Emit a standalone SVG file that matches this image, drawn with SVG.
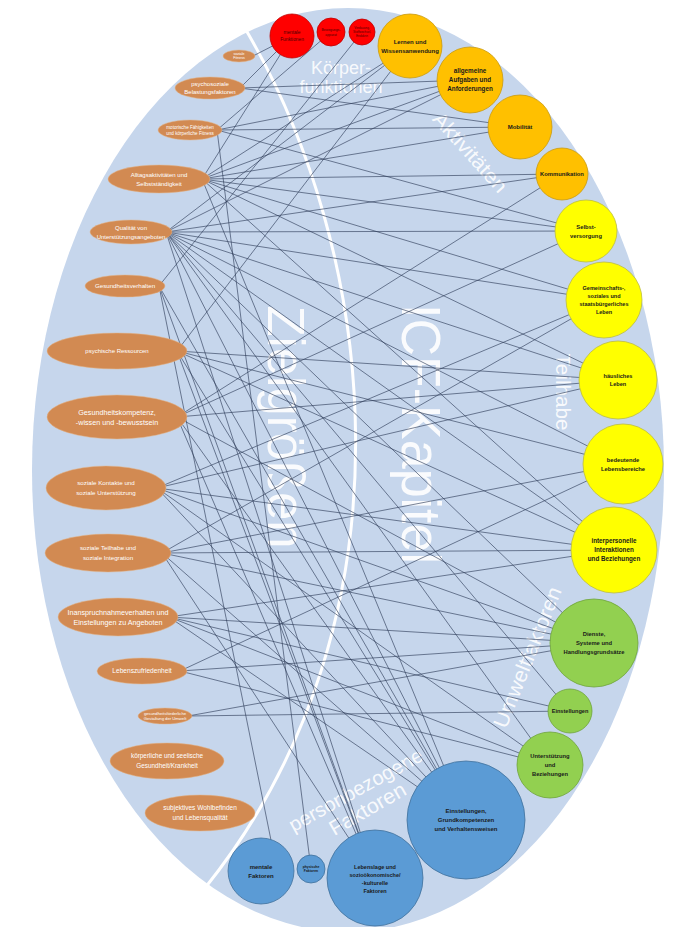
<svg xmlns="http://www.w3.org/2000/svg" width="674" height="927" viewBox="0 0 674 927">
<style>
.bg{fill:#c6d6ec}
.sep{fill:none;stroke:#ffffff;stroke-width:3}
.big{fill:#ffffff;fill-opacity:0.9;font-family:"Liberation Sans",Arial,sans-serif}
#connectors line{stroke:#2c3b57;stroke-width:0.7;stroke-opacity:0.9}
.le{fill:#d28a52;stroke:#e2b48a;stroke-width:0.5}
.lt{fill:#ffffff;font-family:"Liberation Sans",Arial,sans-serif;text-anchor:middle}
.ct{fill:#1a1a1a;font-family:"Liberation Sans",Arial,sans-serif;font-weight:bold;text-anchor:middle}
.rt{fill:#4a0000;font-family:"Liberation Sans",Arial,sans-serif;text-anchor:middle}
.red{fill:#ff0000;stroke:#c00000;stroke-width:0.8}
.org{fill:#ffc000;stroke:#c99a10;stroke-width:0.8}
.yel{fill:#ffff00;stroke:#bdbd40;stroke-width:0.8}
.grn{fill:#92d050;stroke:#6fa33a;stroke-width:0.8}
.blu{fill:#5b9bd5;stroke:#41719c;stroke-width:0.8}
</style>
<rect width="674" height="927" fill="#ffffff"/>
<ellipse class="bg" cx="348" cy="470" rx="316" ry="462"/>
<path class="sep" d="M240 20 C380 250 420 620 205 888"/>
<g id="labels">
<text class="big" transform="translate(268,427) rotate(90)" font-size="51" text-anchor="middle" textLength="243" lengthAdjust="spacingAndGlyphs">Zielgrößen</text>
<text class="big" transform="translate(402,434) rotate(90)" font-size="56" text-anchor="middle" textLength="260" lengthAdjust="spacingAndGlyphs">ICF-Kapitel</text>
<text class="big" x="341" y="74" font-size="18" text-anchor="middle">Körper-</text>
<text class="big" x="341" y="93" font-size="18" text-anchor="middle">funktionen</text>
<text class="big" transform="translate(465,157) rotate(48)" font-size="20" text-anchor="middle" textLength="100" lengthAdjust="spacingAndGlyphs">Aktivitäten</text>
<text class="big" transform="translate(556,392) rotate(90)" font-size="20" text-anchor="middle" textLength="77" lengthAdjust="spacingAndGlyphs">Teilhabe</text>
<text class="big" transform="translate(534,660) rotate(-68)" font-size="21" text-anchor="middle" textLength="150" lengthAdjust="spacingAndGlyphs">Umweltfaktoren</text>
<text class="big" transform="translate(359,796) rotate(-29)" font-size="20" text-anchor="middle" textLength="150" lengthAdjust="spacingAndGlyphs">personbezogene</text>
<text class="big" transform="translate(371,815) rotate(-30)" font-size="21" text-anchor="middle" textLength="85" lengthAdjust="spacingAndGlyphs">Faktoren</text>
</g>
<g id="connectors">
<line x1="253" y1="56" x2="292" y2="36"/>
<line x1="240" y1="88" x2="292" y2="36"/>
<line x1="240" y1="88" x2="470" y2="80"/>
<line x1="240" y1="88" x2="520" y2="127"/>
<line x1="217" y1="130" x2="331" y2="32"/>
<line x1="217" y1="130" x2="520" y2="127"/>
<line x1="217" y1="130" x2="470" y2="80"/>
<line x1="217" y1="130" x2="586" y2="231"/>
<line x1="217" y1="130" x2="311" y2="869"/>
<line x1="202" y1="179" x2="292" y2="36"/>
<line x1="202" y1="179" x2="410" y2="46"/>
<line x1="202" y1="179" x2="470" y2="80"/>
<line x1="202" y1="179" x2="520" y2="127"/>
<line x1="202" y1="179" x2="562" y2="174"/>
<line x1="202" y1="179" x2="586" y2="231"/>
<line x1="202" y1="179" x2="604" y2="300"/>
<line x1="202" y1="179" x2="618" y2="380"/>
<line x1="202" y1="179" x2="614" y2="550"/>
<line x1="202" y1="179" x2="466" y2="820"/>
<line x1="166" y1="232" x2="410" y2="46"/>
<line x1="166" y1="232" x2="470" y2="80"/>
<line x1="166" y1="232" x2="562" y2="174"/>
<line x1="166" y1="232" x2="586" y2="231"/>
<line x1="166" y1="232" x2="604" y2="300"/>
<line x1="166" y1="232" x2="618" y2="380"/>
<line x1="166" y1="232" x2="623" y2="464"/>
<line x1="166" y1="232" x2="614" y2="550"/>
<line x1="166" y1="232" x2="594" y2="643"/>
<line x1="166" y1="232" x2="570" y2="711"/>
<line x1="166" y1="232" x2="550" y2="765"/>
<line x1="166" y1="232" x2="466" y2="820"/>
<line x1="166" y1="232" x2="375" y2="878"/>
<line x1="159" y1="286" x2="362" y2="32"/>
<line x1="159" y1="286" x2="275" y2="860"/>
<line x1="159" y1="286" x2="466" y2="820"/>
<line x1="159" y1="286" x2="375" y2="878"/>
<line x1="177" y1="351" x2="410" y2="46"/>
<line x1="177" y1="351" x2="618" y2="380"/>
<line x1="177" y1="351" x2="623" y2="464"/>
<line x1="177" y1="351" x2="614" y2="550"/>
<line x1="177" y1="351" x2="466" y2="820"/>
<line x1="177" y1="351" x2="375" y2="878"/>
<line x1="177" y1="417" x2="562" y2="174"/>
<line x1="177" y1="417" x2="586" y2="231"/>
<line x1="177" y1="417" x2="618" y2="380"/>
<line x1="177" y1="417" x2="594" y2="643"/>
<line x1="177" y1="417" x2="466" y2="820"/>
<line x1="177" y1="417" x2="375" y2="878"/>
<line x1="157" y1="488" x2="604" y2="300"/>
<line x1="157" y1="488" x2="618" y2="380"/>
<line x1="157" y1="488" x2="614" y2="550"/>
<line x1="157" y1="488" x2="594" y2="643"/>
<line x1="157" y1="488" x2="550" y2="765"/>
<line x1="157" y1="488" x2="466" y2="820"/>
<line x1="162" y1="553" x2="604" y2="300"/>
<line x1="162" y1="553" x2="623" y2="464"/>
<line x1="162" y1="553" x2="614" y2="550"/>
<line x1="162" y1="553" x2="594" y2="643"/>
<line x1="162" y1="553" x2="466" y2="820"/>
<line x1="162" y1="553" x2="375" y2="878"/>
<line x1="169" y1="617" x2="594" y2="643"/>
<line x1="169" y1="617" x2="570" y2="711"/>
<line x1="169" y1="617" x2="550" y2="765"/>
<line x1="169" y1="617" x2="466" y2="820"/>
<line x1="169" y1="617" x2="614" y2="550"/>
<line x1="180" y1="671" x2="594" y2="643"/>
<line x1="180" y1="671" x2="550" y2="765"/>
<line x1="180" y1="671" x2="623" y2="464"/>
<line x1="188" y1="716" x2="594" y2="643"/>
<line x1="188" y1="716" x2="570" y2="711"/>
</g>
<g id="n-soziale-fitness"><ellipse class="le" cx="239" cy="56" rx="16" ry="6"/><text class="lt" font-size="3.6"><tspan x="239" y="55.2">soziale</tspan><tspan x="239" y="59.4">Fitness</tspan></text></g>
<g id="n-psychosoziale"><ellipse class="le" cx="210" cy="88" rx="35" ry="11"/><text class="lt" font-size="6"><tspan x="210" y="86.1">psychosoziale</tspan><tspan x="210" y="94.1">Belastungsfaktoren</tspan></text></g>
<g id="n-motorische"><ellipse class="le" cx="190" cy="130" rx="32" ry="10"/><text class="lt" font-size="4.6"><tspan x="190" y="128.6">motorische Fähigkeiten</tspan><tspan x="190" y="134.6">und körperliche Fitness</tspan></text></g>
<g id="n-alltag"><ellipse class="le" cx="159" cy="179" rx="51" ry="14"/><text class="lt" font-size="6"><tspan x="159" y="176.6">Alltagsaktivitäten und</tspan><tspan x="159" y="185.6">Selbstständigkeit</tspan></text></g>
<g id="n-qualitaet"><ellipse class="le" cx="131" cy="232" rx="41" ry="12"/><text class="lt" font-size="6"><tspan x="131" y="229.6">Qualität von</tspan><tspan x="131" y="238.6">Unterstützungsangeboten</tspan></text></g>
<g id="n-gesundheitsverhalten"><ellipse class="le" cx="125" cy="286" rx="40" ry="11"/><text class="lt" font-size="6.2" x="125" y="288.2">Gesundheitsverhalten</text></g>
<g id="n-psychische-ressourcen"><ellipse class="le" cx="117" cy="351" rx="70" ry="18"/><text class="lt" font-size="6" x="117" y="353.1">psychische Ressourcen</text></g>
<g id="n-gesundheitskompetenz"><ellipse class="le" cx="117" cy="417" rx="70" ry="22"/><text class="lt" font-size="7.2"><tspan x="117" y="414.5">Gesundheitskompetenz,</tspan><tspan x="117" y="424.5">-wissen und -bewusstsein</tspan></text></g>
<g id="n-soziale-kontakte"><ellipse class="le" cx="106" cy="488" rx="60" ry="22"/><text class="lt" font-size="6.2"><tspan x="106" y="485.2">soziale Kontakte und</tspan><tspan x="106" y="495.2">soziale Unterstützung</tspan></text></g>
<g id="n-soziale-teilhabe"><ellipse class="le" cx="108" cy="553" rx="63" ry="19"/><text class="lt" font-size="6.2"><tspan x="108" y="550.2">soziale Teilhabe und</tspan><tspan x="108" y="560.2">soziale Integration</tspan></text></g>
<g id="n-inanspruchnahme"><ellipse class="le" cx="118" cy="617" rx="60" ry="19"/><text class="lt" font-size="7.2"><tspan x="118" y="614.5">Inanspruchnahmeverhalten und</tspan><tspan x="118" y="624.5">Einstellungen zu Angeboten</tspan></text></g>
<g id="n-lebenszufriedenheit"><ellipse class="le" cx="142" cy="671" rx="45" ry="13"/><text class="lt" font-size="6.6" x="142" y="673.3">Lebenszufriedenheit</text></g>
<g id="n-umwelt"><ellipse class="le" cx="165" cy="716" rx="27" ry="8"/><text class="lt" font-size="4.2"><tspan x="165" y="715">gesundheitsförderliche</tspan><tspan x="165" y="720">Gestaltung der Umwelt</tspan></text></g>
<g id="n-koerperliche"><ellipse class="le" cx="167" cy="761" rx="57" ry="18"/><text class="lt" font-size="6.4"><tspan x="167" y="758.2">körperliche und seelische</tspan><tspan x="167" y="768.2">Gesundheit/Krankheit</tspan></text></g>
<g id="n-wohlbefinden"><ellipse class="le" cx="200" cy="813" rx="55" ry="18"/><text class="lt" font-size="6.5"><tspan x="200" y="810.3">subjektives Wohlbefinden</tspan><tspan x="200" y="820.3">und Lebensqualität</tspan></text></g>
<g id="n-mentale-funktionen"><circle class="red" cx="292" cy="36" r="22"/><text class="rt" font-size="4.8"><tspan x="292" y="34.2">mentale</tspan><tspan x="292" y="41.2">Funktionen</tspan></text></g>
<g id="n-bewegungsapparat"><circle class="red" cx="331" cy="32" r="14"/><text class="rt" font-size="3.4"><tspan x="331" y="31">Bewegungs-</tspan><tspan x="331" y="35.5">apparat</tspan></text></g>
<g id="n-verdauung"><circle class="red" cx="362" cy="32" r="13"/><text class="rt" font-size="3"><tspan x="362" y="29">Verdauung,</tspan><tspan x="362" y="33">Stoffwechsel,</tspan><tspan x="362" y="37">Endokrin</tspan></text></g>
<g id="n-lernen"><circle class="org" cx="410" cy="46" r="32"/><text class="ct" font-size="6"><tspan x="410" y="43.6">Lernen und</tspan><tspan x="410" y="52.6">Wissensanwendung</tspan></text></g>
<g id="n-aufgaben"><circle class="org" cx="470" cy="80" r="33"/><text class="ct" font-size="6.3"><tspan x="470" y="73.2">allgemeine</tspan><tspan x="470" y="82.2">Aufgaben und</tspan><tspan x="470" y="91.2">Anforderungen</tspan></text></g>
<g id="n-mobilitaet"><circle class="org" cx="520" cy="127" r="32"/><text class="ct" font-size="6" x="520" y="129.1">Mobilität</text></g>
<g id="n-kommunikation"><circle class="org" cx="562" cy="174" r="26"/><text class="ct" font-size="5.8" x="562" y="176">Kommunikation</text></g>
<g id="n-selbstversorgung"><circle class="yel" cx="586" cy="231" r="31"/><text class="ct" font-size="5.8"><tspan x="586" y="228.5">Selbst-</tspan><tspan x="586" y="237.5">versorgung</tspan></text></g>
<g id="n-gemeinschaft"><circle class="yel" cx="604" cy="300" r="38"/><text class="ct" font-size="5.5"><tspan x="604" y="289.9">Gemeinschafts-,</tspan><tspan x="604" y="297.9">soziales und</tspan><tspan x="604" y="305.9">staatsbürgerliches</tspan><tspan x="604" y="313.9">Leben</tspan></text></g>
<g id="n-haeusliches"><circle class="yel" cx="618" cy="380" r="39"/><text class="ct" font-size="5.6"><tspan x="618" y="377.7">häusliches</tspan><tspan x="618" y="386.2">Leben</tspan></text></g>
<g id="n-bedeutende"><circle class="yel" cx="623" cy="464" r="40"/><text class="ct" font-size="5.8"><tspan x="623" y="461.5">bedeutende</tspan><tspan x="623" y="470.5">Lebensbereiche</tspan></text></g>
<g id="n-interpersonelle"><circle class="yel" cx="614" cy="550" r="43"/><text class="ct" font-size="6.3"><tspan x="614" y="543.2">interpersonelle</tspan><tspan x="614" y="552.2">Interaktionen</tspan><tspan x="614" y="561.2">und Beziehungen</tspan></text></g>
<g id="n-dienste"><circle class="grn" cx="594" cy="643" r="44"/><text class="ct" font-size="5.8"><tspan x="594" y="636">Dienste,</tspan><tspan x="594" y="645">Systeme und</tspan><tspan x="594" y="654">Handlungsgrundsätze</tspan></text></g>
<g id="n-einstellungen"><circle class="grn" cx="570" cy="711" r="22"/><text class="ct" font-size="5.6" x="570" y="713">Einstellungen</text></g>
<g id="n-unterstuetzung"><circle class="grn" cx="550" cy="765" r="33"/><text class="ct" font-size="5.8"><tspan x="550" y="758">Unterstützung</tspan><tspan x="550" y="767">und</tspan><tspan x="550" y="776">Beziehungen</tspan></text></g>
<g id="n-grundkompetenzen"><circle class="blu" cx="466" cy="820" r="59"/><text class="ct" font-size="6"><tspan x="466" y="813">Einstellungen,</tspan><tspan x="466" y="822">Grundkompetenzen</tspan><tspan x="466" y="831">und Verhaltensweisen</tspan></text></g>
<g id="n-mentale-faktoren"><circle class="blu" cx="261" cy="871" r="33"/><text class="ct" font-size="6"><tspan x="261" y="868.6">mentale</tspan><tspan x="261" y="877.6">Faktoren</tspan></text></g>
<g id="n-physische-faktoren"><circle class="blu" cx="311" cy="869" r="14"/><text class="ct" font-size="3.4"><tspan x="311" y="867.9">physische</tspan><tspan x="311" y="872.4">Faktoren</tspan></text></g>
<g id="n-lebenslage"><circle class="blu" cx="375" cy="878" r="48"/><text class="ct" font-size="5.5"><tspan x="375" y="869">Lebenslage und</tspan><tspan x="375" y="877">sozioökonomische/</tspan><tspan x="375" y="885">-kulturelle</tspan><tspan x="375" y="893">Faktoren</tspan></text></g>
</svg>
